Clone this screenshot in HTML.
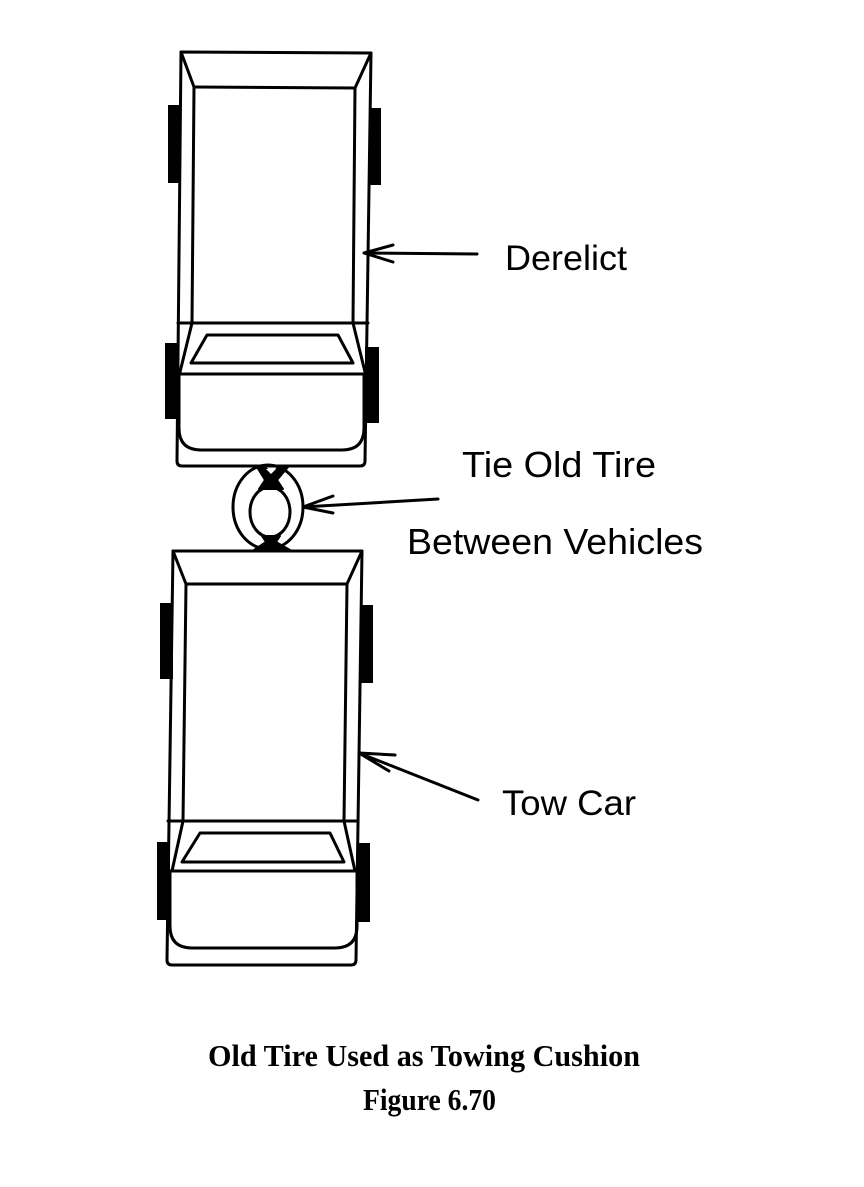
<!DOCTYPE html>
<html>
<head>
<meta charset="utf-8">
<style>
html,body{margin:0;padding:0;background:#fff;}
svg{display:block;}
</style>
</head>
<body>
<svg width="864" height="1187" viewBox="0 0 864 1187" xmlns="http://www.w3.org/2000/svg">
<rect width="864" height="1187" fill="#fff"/>
<g fill="none" stroke="#000" stroke-width="3" stroke-linecap="round" stroke-linejoin="round">
  <!-- TOP CAR (Derelict) -->
  <path d="M181,52 L371,53 L365,461 Q365,466 360,466 L182,466 Q177,466 177,461 Z"/>
  <path d="M194,87 L355,88"/>
  <path d="M181,52 L194,87 M371,53 L355,88"/>
  <path d="M194,87 L192,323 M355,88 L353,323"/>
  <path d="M178,323 L368,323"/>
  <path d="M192,323 L180,372 M353,323 L365,372"/>
  <path d="M207,335 L338,335 L353,363 L191,363 Z"/>
  <path d="M178,374 L367,374"/>
  <path d="M179,374 L179,428 Q179,450 201,450 L342,450 Q364,450 364,428 L364,374"/>
  <!-- BOTTOM CAR (Tow Car) -->
  <path d="M173,551 L362,551 L356,960 Q356,965 351,965 L172,965 Q167,965 167,960 Z"/>
  <path d="M186,584 L347,584"/>
  <path d="M173,551 L186,584 M362,551 L347,584"/>
  <path d="M186,584 L183,821 M347,584 L344,821"/>
  <path d="M168,821 L358,821"/>
  <path d="M183,821 L172,871 M344,821 L355,871"/>
  <path d="M200,833 L330,833 L344,862 L182,862 Z"/>
  <path d="M170,871 L357,871"/>
  <path d="M170,871 L170,926 Q170,948 192,948 L335,948 Q357,948 357,926 L357,871"/>
  <!-- Tire -->
  <ellipse cx="268" cy="507" rx="35" ry="42"/>
  <ellipse cx="270" cy="512" rx="20" ry="25"/>
  <!-- Arrows -->
  <path d="M364,253 L477,254 M364,253 L393,245 M364,253 L393,262"/>
  <path d="M303,507 L438,499 M303,507 L333,496 M303,507 L333,513"/>
  <path d="M359,753 L478,800 M359,753 L395,755 M359,753 L389,771"/>
</g>
<!-- Ropes -->
<g fill="#000" stroke="#000" stroke-width="2" stroke-linejoin="round">
  <path d="M257,467 L265,467 L271,474 L279,467 L288,467 L277,480 L283,489 L259,489 L265,480 Z"/>
  <path d="M262,536 L280,536 L276,542 L290,550 L254,550 L266,542 Z"/>
</g>
<g fill="#fff">
  <path d="M266,469 L276,469 L271,474 Z"/>
</g>
<!-- Wheels -->
<g fill="#000">
  <rect x="168" y="105" width="12" height="78"/>
  <rect x="370" y="108" width="11" height="77"/>
  <rect x="165" y="343" width="13" height="76"/>
  <rect x="365" y="347" width="14" height="76"/>
  <rect x="160" y="603" width="13" height="76"/>
  <rect x="360" y="605" width="13" height="78"/>
  <rect x="157" y="842" width="13" height="78"/>
  <rect x="357" y="843" width="13" height="79"/>
</g>
<!-- Labels -->
<g font-family="'Liberation Sans', sans-serif" fill="#000">
  <text x="505" y="270" font-size="35" textLength="122" lengthAdjust="spacingAndGlyphs">Derelict</text>
  <text x="462" y="477" font-size="36" textLength="194" lengthAdjust="spacingAndGlyphs">Tie Old Tire</text>
  <text x="407" y="554" font-size="36" textLength="296" lengthAdjust="spacingAndGlyphs">Between Vehicles</text>
  <text x="502" y="815" font-size="35" textLength="134" lengthAdjust="spacingAndGlyphs">Tow Car</text>
</g>
<g font-family="'Liberation Serif', serif" font-weight="bold" fill="#000">
  <text x="208" y="1066" font-size="31" textLength="432" lengthAdjust="spacingAndGlyphs">Old Tire Used as Towing Cushion</text>
  <text x="363" y="1110" font-size="31" textLength="133" lengthAdjust="spacingAndGlyphs">Figure 6.70</text>
</g>
</svg>
</body>
</html>
